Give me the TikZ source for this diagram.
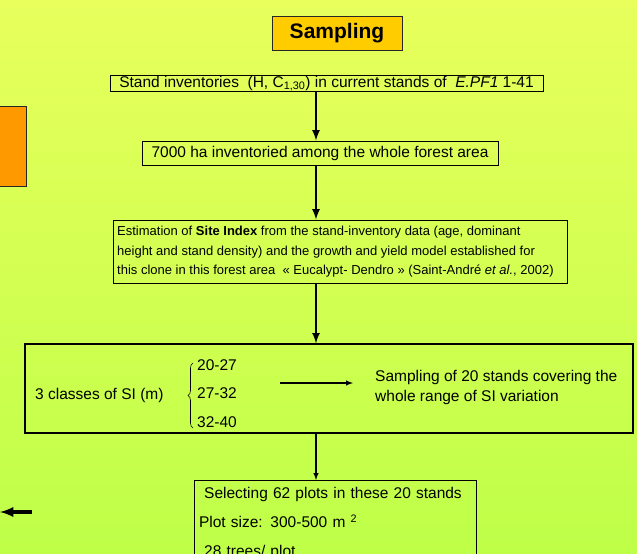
\documentclass[tikz,border=0pt]{standalone}
\usepackage{fontspec}
\setmainfont{Liberation Sans}
\usepackage{tikz}
\usetikzlibrary{arrows, positioning, decorations.pathreplacing}
\definecolor{slidetop}{RGB}{232,255,92}
\definecolor{slidebottom}{RGB}{190,255,72}
\definecolor{samplinggold}{RGB}{255,204,0}
\definecolor{taborange}{RGB}{255,153,0}
\newcommand{\bodyfont}{\fontsize{15.5}{19.5}\selectfont}
\tikzstyle{title}=[rectangle, draw=black!85, fill=samplinggold, minimum width=130, minimum height=34, inner sep=0pt, font=\fontsize{21}{24}\selectfont\bfseries]
\tikzstyle{tab}=[rectangle, draw=black!85, fill=taborange, minimum width=28, minimum height=80]
\tikzstyle{box}=[rectangle, draw=black, line width=1pt, inner sep=0pt, text centered]
\tikzstyle{bigbox}=[rectangle, draw=black, line width=1.3pt, inner sep=0pt]
\tikzstyle{plain}=[inner sep=0pt, anchor=west]
\tikzstyle{brace}=[decorate, decoration={brace, amplitude=5pt}, line width=0.6pt]
\tikzstyle{arrow}=[line width=2.5pt, ->, >=latex]
\tikzstyle{thin arrow}=[line width=1.4pt, ->, >=latex]

\begin{document}
\begin{tikzpicture}[x=1pt, y=-1pt, font=\bodyfont]
		\useasboundingbox (0,0) rectangle (637,554);
		\clip (0,0) rectangle (637,554);
		\shade [top color=slidetop, bottom color=slidebottom] (0,0) rectangle (637,554);
		\coordinate (axis) at (316,0);

		\node (sampling) [title] at (337,33) {Sampling};
		\node (tab) [tab] at (12,146) {};

		\node (stand) [box, minimum width=433, minimum height=16] at (326.5,83.5) {Stand inventories\ \ (H, C\textsubscript{1,30}) in current stands of\ \ \textit{E.PF1} 1-41};
		\node (inventoried) [box, minimum width=356, minimum height=24] at (320,153) {7000 ha inventoried among the whole forest area};
		\node (estimation) [box, minimum width=454, minimum height=63] at (340,251.5) {};
		\node (estimationtext) [plain, align=left, font=\fontsize{13}{19.5}\selectfont] at (117,252) {Estimation of \textbf{Site Index} from the stand-inventory data (age, dominant\\height and stand density) and the growth and yield model established for\\this clone in this forest area\ \ « Eucalypt- Dendro » (Saint-André \textit{et al.}, 2002)};

		\node (classes) [bigbox, minimum width=608, minimum height=89] at (329,388.5) {};
		\node (si) [plain] at (35,395) {3 classes of SI (m)};
		\node (low) [plain] at (197,365) {20-27};
		\node (mid) [plain] at (197,393) {27-32};
		\node (high) [plain] at (197,422) {32-40};
		\draw [brace] (193,428) -- (193,363);
		\coordinate (hstart) at (280,383);
		\coordinate (hend) at (353,383);
		\node (covering) [plain, align=left] at (375,387.5) {Sampling of 20 stands covering the\\whole range of SI variation};

		\node (selecting) [box, anchor=north, text width=272, align=left, inner xsep=5pt, inner ysep=6.5pt, font=\fontsize{15.5}{29}\selectfont] at (335,480) {\ Selecting 62 plots in these 20 stands\\Plot size: 300-500 m \textsuperscript{2}\\\ 28 trees/ plot};

		\coordinate (backstart) at (32,512);
		\coordinate (backend) at (0,512);

		\draw [arrow] (stand.south -| axis) -- (inventoried.north -| axis);
		\draw [arrow] (inventoried.south -| axis) -- (estimation.north -| axis);
		\draw [arrow] (estimation.south -| axis) -- (classes.north -| axis);
		\draw [thin arrow] (hstart) -- (hend);
		\draw [thin arrow] (classes.south -| axis) -- (selecting.north -| axis);
		\draw [arrow, line width=3.5pt] (backstart) -- (backend);
\end{tikzpicture}
\end{document}
